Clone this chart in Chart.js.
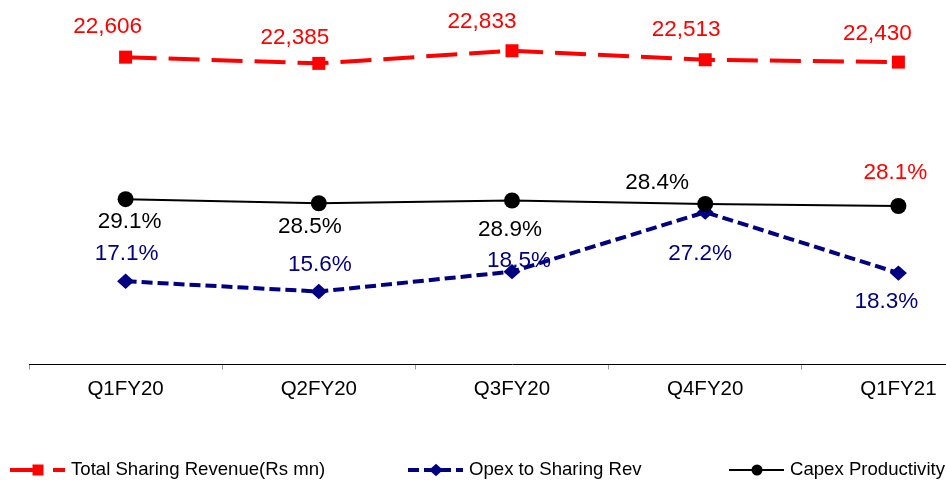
<!DOCTYPE html>
<html>
<head>
<meta charset="utf-8">
<script src="https://cdn.jsdelivr.net/npm/chart.js@4/dist/chart.umd.min.js"></script>
<style>
  html, body { margin: 0; padding: 0; background: #fff; overflow: hidden; }
  #wrap { width: 1000px; height: 483px; }
</style>
</head>
<body>
<div id="wrap"><canvas id="c" width="1000" height="483"></canvas></div>
<script>
// ---- data ----
const categories = ['Q1FY20', 'Q2FY20', 'Q3FY20', 'Q4FY20', 'Q1FY21'];
const totalSharingRevenue = [22606, 22385, 22833, 22513, 22430];
const opexToSharingRev = [17.1, 15.6, 18.5, 27.2, 18.3];
const capexProductivity = [29.1, 28.5, 28.9, 28.4, 28.1];
const seriesNames = ['Total Sharing Revenue(Rs mn)', 'Opex to Sharing Rev', 'Capex Productivity'];

// ---- styling (label placement offsets, colours) ----
const FONT = "'Liberation Sans', Arial, Helvetica, sans-serif";
const RED = '#FF0000', NAVY = '#000080', BLACK = '#000000';
const labelOffsets = [
  [[-18, -30], [-24, -26], [-30, -29], [-19, -30], [-21, -28]],
  [[1, -27], [1, -27], [7, -11], [-5, 42], [-12, 29]],
  [[4, 23], [-9, 24], [-2, 29], [-48, -21], [-3, -33]]
];
const labelColors = [
  [RED, RED, RED, RED, RED],
  [NAVY, NAVY, NAVY, NAVY, NAVY],
  [BLACK, BLACK, BLACK, BLACK, RED]
];
const legendX = [10, 408, 729];

function fmt(dsIndex, v) {
  if (dsIndex === 0) return v.toLocaleString('en-US');
  return v.toFixed(1) + '%';
}

function marker(ctx, style, x, y, r, color) {
  ctx.save();
  ctx.setLineDash([]);
  ctx.fillStyle = color;
  ctx.beginPath();
  if (style === 'rect') {
    ctx.rect(x - r, y - r, 2 * r, 2 * r);
  } else if (style === 'diamond') {
    ctx.moveTo(x, y - r * 0.9);
    ctx.lineTo(x + r, y);
    ctx.lineTo(x, y + r * 0.9);
    ctx.lineTo(x - r, y);
    ctx.closePath();
  } else {
    ctx.arc(x, y, r, 0, Math.PI * 2);
  }
  ctx.fill();
  ctx.restore();
}

const markerStyles = ['rect', 'diamond', 'circle'];
const markerSizes = [6.5, 8.5, 8];
const legendMarkerSizes = [5.5, 7, 5.5];

const labelPlugin = {
  id: 'customLabels',
  afterDatasetsDraw(chart) {
    const ctx = chart.ctx;
    ctx.save();
    ctx.font = '22.5px ' + FONT;
    ctx.textAlign = 'center';
    ctx.textBaseline = 'middle';
    chart.data.datasets.forEach((ds, i) => {
      const meta = chart.getDatasetMeta(i);
      meta.data.forEach((pt, j) => {
        const off = labelOffsets[i][j];
        ctx.fillStyle = labelColors[i][j];
        ctx.fillText(fmt(i, ds.data[j]), pt.x + off[0], pt.y + off[1]);
      });
    });
    ctx.restore();
  },
  afterDraw(chart) {
    const ctx = chart.ctx;
    const y = 470;
    chart.data.datasets.forEach((ds, i) => {
      const x0 = legendX[i];
      ctx.save();
      ctx.strokeStyle = ds.borderColor;
      ctx.lineWidth = ds.borderWidth;
      ctx.setLineDash(ds.borderDash || []);
      ctx.beginPath();
      ctx.moveTo(x0, y);
      ctx.lineTo(x0 + 55, y);
      ctx.stroke();
      ctx.restore();
      marker(ctx, markerStyles[i], x0 + 28, y, legendMarkerSizes[i], ds.borderColor);
      ctx.save();
      ctx.fillStyle = '#000';
      ctx.font = '18.6px ' + FONT;
      ctx.textAlign = 'left';
      ctx.textBaseline = 'middle';
      ctx.fillText(ds.label, x0 + 61, y);
      ctx.restore();
    });
  }
};

const markerPlugin = {
  id: 'customMarkers',
  afterDatasetDraw(chart, args) {
    const i = args.index;
    const meta = chart.getDatasetMeta(i);
    const ds = chart.data.datasets[i];
    meta.data.forEach(pt => {
      marker(chart.ctx, markerStyles[i], pt.x, pt.y, markerSizes[i], ds.borderColor);
    });
  }
};

new Chart(document.getElementById('c'), {
  type: 'line',
  data: {
    labels: categories,
    datasets: [
      {
        label: seriesNames[0],
        data: totalSharingRevenue,
        yAxisID: 'yRev',
        borderColor: RED,
        backgroundColor: RED,
        borderWidth: 4,
        borderDash: [31, 12],
        pointRadius: 0,
        tension: 0,
        order: 0
      },
      {
        label: seriesNames[1],
        data: opexToSharingRev,
        yAxisID: 'yPct',
        borderColor: NAVY,
        backgroundColor: NAVY,
        borderWidth: 4,
        borderDash: [11, 5],
        pointRadius: 0,
        tension: 0,
        order: 2
      },
      {
        label: seriesNames[2],
        data: capexProductivity,
        yAxisID: 'yPct',
        borderColor: BLACK,
        backgroundColor: BLACK,
        borderWidth: 2,
        pointRadius: 0,
        tension: 0,
        order: 1
      }
    ]
  },
  options: {
    responsive: false,
    devicePixelRatio: 1,
    animation: false,
    layout: { autoPadding: false, padding: { left: 29, right: 5, top: 0, bottom: 73 } },
    plugins: { legend: { display: false }, tooltip: { enabled: false } },
    scales: {
      x: {
        type: 'category',
        offset: true,
        grid: { display: true, drawOnChartArea: false, drawTicks: true, tickLength: 5, tickColor: '#999999', offset: true },
        border: { display: true, color: '#000000', width: 1 },
        ticks: { color: '#000000', font: { family: FONT, size: 20.5 }, padding: 8, maxRotation: 0 }
      },
      yRev: { type: 'linear', display: false, min: 11692, max: 24636 },
      yPct: { type: 'linear', display: false, min: 4.95, max: 58.2 }
    }
  },
  plugins: [markerPlugin, labelPlugin]
});
</script>
</body>
</html>
